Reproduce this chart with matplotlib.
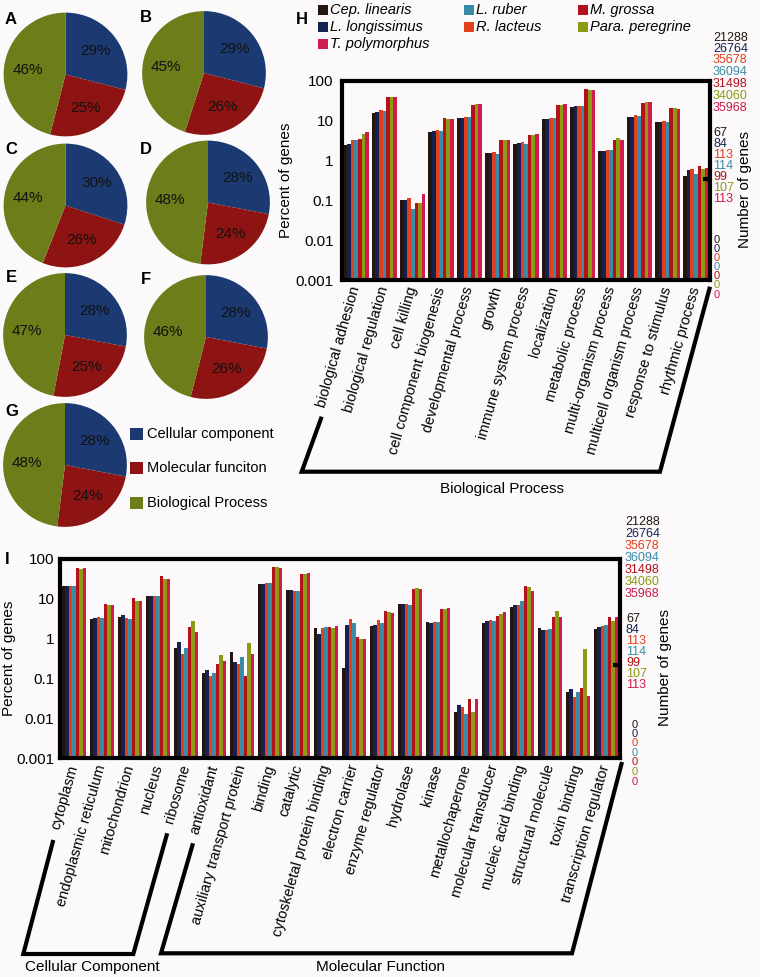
import matplotlib
matplotlib.use('Agg')
import matplotlib.pyplot as plt
import numpy as np
from matplotlib.patches import Rectangle

plt.rcParams['font.family'] = ['Liberation Sans', 'DejaVu Sans']

W, H = 760, 977
BG = '#fbf9f9'

# ---- pie data (A-G) ----
pie_names = ['A', 'B', 'C', 'D', 'E', 'F', 'G']
pie_cc = [29, 29, 30, 28, 28, 28, 28]
pie_mf = [25, 26, 26, 24, 25, 26, 24]
pie_bp = [46, 45, 44, 48, 47, 46, 48]
pie_labels = ['Cellular component', 'Molecular funciton', 'Biological Process']
pie_colors = ['#1b3a72', '#8e1414', '#6c7d1a']

# ---- species ----
species = ['Cep. linearis', 'L. longissimus', 'R. lacteus', 'L. ruber',
           'M. grossa', 'Para. peregrine', 'T. polymorphus']
sp_colors = ['#24150f', '#15214f', '#e2401c', '#3a8ba8', '#b3121a', '#8c9a14', '#cf1c4c']
total_genes = [21288, 26764, 35678, 36094, 31498, 34060, 35968]
mid_genes = [67, 84, 113, 114, 99, 107, 113]
min_genes = [0, 0, 0, 0, 0, 0, 0]

# ---- H: biological process (% of genes) ----
bp_terms = ['biological adhesion', 'biological regulation', 'cell killing',
            'cell component biogenesis', 'developmental process', 'growth',
            'immune system process', 'localization', 'metabolic process',
            'multi-organism process', 'multicell organism process',
            'response to stimulus', 'rhythmic process']
bp_cep = [2.5, 16, 0.1, 5.3, 11.5, 1.55, 2.6, 11, 22, 1.7, 12.5, 9.5, 0.42]
bp_llong = [2.6, 17, 0.1, 5.4, 11.5, 1.55, 2.7, 11, 23, 1.7, 12.5, 9.5, 0.58]
bp_rlac = [3.2, 19, 0.117, 5.9, 12.8, 1.6, 3.0, 12, 23, 1.85, 14, 10, 0.62]
bp_lrub = [3.3, 17.5, 0.06, 5.6, 12.5, 1.45, 2.6, 11.5, 23, 1.85, 13.5, 9.3, 0.45]
bp_mgro = [3.5, 40, 0.087, 11.5, 25, 3.2, 4.3, 25, 62, 3.3, 28, 21, 0.75]
bp_para = [4.7, 40, 0.087, 10.8, 26, 3.2, 4.5, 25, 60, 3.6, 29, 21.5, 0.62]
bp_tpol = [5.3, 40, 0.144, 10.8, 26, 3.2, 4.6, 26.5, 58, 3.2, 30, 19.5, 0.66]

# ---- I: cellular component + molecular function (% of genes) ----
cm_terms = ['cytoplasm', 'endoplasmic reticulum', 'mitochondrion', 'nucleus',
            'ribosome', 'antioxidant', 'auxiliary transport protein', 'binding',
            'catalytic', 'cytoskeletal protein binding', 'electron carrier',
            'enzyme regulator', 'hydrolase', 'kinase', 'metallochaperone',
            'molecular transducer', 'nucleic acid binding', 'structural molecule',
            'toxin binding', 'transcription regulator']
cm_cep = [21, 3.1, 3.4, 11.5, 0.58, 0.14, 0.47, 23, 17, 1.8, 0.18, 2.1, 7.4, 2.55,
          0.0145, 2.45, 6.3, 1.85, 0.045, 1.75]
cm_llong = [21, 3.3, 3.9, 12, 0.84, 0.165, 0.26, 24, 17, 1.3, 2.2, 2.2, 7.4, 2.5,
            0.022, 2.7, 7.0, 1.6, 0.055, 2.0]
cm_rlac = [21, 3.4, 3.2, 12, 0.4, 0.115, 0.23, 25, 15.5, 1.8, 3.1, 3.0, 7.2, 2.6,
           0.019, 3.0, 6.9, 1.6, 0.035, 2.05]
cm_lrub = [20.5, 3.2, 3.1, 12, 0.58, 0.138, 0.35, 25.5, 16, 2.0, 2.4, 2.4, 7.1, 2.65,
           0.0126, 2.8, 8.6, 1.7, 0.045, 2.2]
cm_mgro = [60, 7.3, 10.5, 37, 2.0, 0.235, 0.115, 63, 43, 1.95, 1.12, 4.8, 18, 5.7,
           0.031, 3.6, 21, 3.4, 0.058, 3.4]
cm_para = [57, 6.8, 9.0, 31, 2.8, 0.39, 0.76, 64, 43, 1.9, 1.0, 4.6, 18.5, 5.5,
           0.014, 4.2, 19.5, 5.0, 0.55, 2.8]
cm_tpol = [58, 7.0, 8.8, 31, 1.5, 0.27, 0.41, 61, 44, 2.05, 1.0, 4.4, 18, 5.8,
           0.03, 4.6, 15.8, 3.4, 0.036, 3.4]

bp_series = [bp_cep, bp_llong, bp_rlac, bp_lrub, bp_mgro, bp_para, bp_tpol]
cm_series = [cm_cep, cm_llong, cm_rlac, cm_lrub, cm_mgro, cm_para, cm_tpol]


def px_rect(x0, y0, x1, y1):
    # pixel box (top-left origin) -> figure fraction rect
    return [x0 / W, 1 - y1 / H, (x1 - x0) / W, (y1 - y0) / H]


fig = plt.figure(figsize=(W / 100, H / 100), dpi=100, facecolor=BG)

# ---- pies ----
pie_centers = [(65.5, 74.5), (204, 73), (65.5, 205.5), (208, 202.5),
               (65, 335), (206, 337), (65, 465)]
letter_pos = [(11, 20), (146, 18), (11, 150), (146, 150), (11, 278), (146, 280), (12, 412)]
r = 62.5
for i, name in enumerate(pie_names):
    cx, cy = pie_centers[i]
    ax = fig.add_axes(px_rect(cx - r, cy - r, cx + r, cy + r))
    ax.pie([pie_cc[i], pie_mf[i], pie_bp[i]], colors=pie_colors, startangle=90,
           counterclock=False, autopct=lambda p: f'{p:.0f}%', pctdistance=0.62,
           textprops=dict(fontsize=11, color='#111111'), wedgeprops=dict(linewidth=0))
    ax.set_xlim(-1.01, 1.01)
    ax.set_ylim(-1.01, 1.01)
    ax.set_aspect('auto')

# ---- bar chart helper ----
def draw_bars(ax, terms, series, width=0.127):
    x = np.arange(len(terms))
    for k, vals in enumerate(series):
        ax.bar(x + (k - 3) * width, vals, width, color=sp_colors[k], linewidth=0,
               label=species[k])
    ax.set_yscale('log')
    ax.set_ylim(0.001, 100)
    ax.set_xlim(-0.5, len(terms) - 0.5)
    ax.set_yticks([0.001, 0.01, 0.1, 1, 10, 100])
    ax.set_yticklabels(['0.001', '0.01', '0.1', '1', '10', '100'])
    ax.minorticks_off()
    ax.set_xticks(x)
    ax.set_xticklabels(terms, rotation=74, ha='right', va='center',
                       rotation_mode='anchor', fontsize=10.5)
    ax.tick_params(axis='both', length=0)
    ax.tick_params(axis='y', labelsize=11, pad=6)
    ax.tick_params(axis='x', pad=5)
    for s in ax.spines.values():
        s.set_linewidth(3)
        s.set_color('black')
    ax.set_facecolor('none')
    ax.set_ylabel('Percent of genes', fontsize=11, labelpad=2)


axH = fig.add_axes(px_rect(342, 81, 710, 280))
draw_bars(axH, bp_terms, bp_series)

axI = fig.add_axes(px_rect(60, 559, 620, 758))
draw_bars(axI, cm_terms, cm_series)
axI.tick_params(axis='y', pad=4)
axI.set_ylabel('Percent of genes', fontsize=11, labelpad=0)

# ---- overlay in pixel coordinates ----
ov = fig.add_axes([0, 0, 1, 1], zorder=10)
ov.set_xlim(0, W)
ov.set_ylim(H, 0)
ov.axis('off')
ov.patch.set_alpha(0)

for name, (lx, ly) in zip(pie_names, letter_pos):
    ov.text(lx, ly, name, fontsize=12, fontweight='bold', ha='center', va='center')
ov.text(302, 20, 'H', fontsize=12, fontweight='bold', ha='center', va='center')
ov.text(7, 560, 'I', fontsize=12, fontweight='bold', ha='center', va='center')

# pie legend
for j, lab in enumerate(pie_labels):
    yy = [434, 468, 503][j]
    ov.add_patch(Rectangle((130, yy - 6), 13, 12, color=pie_colors[j], lw=0))
    ov.text(147, yy, lab, fontsize=10.5, ha='left', va='center')

# species legend (3 columns)
leg_slots = [(318, 10), (318, 27), (464, 27), (464, 10), (578, 10), (578, 27), (318, 44)]
for k, sp in enumerate(species):
    lx, ly = leg_slots[k]
    ov.add_patch(Rectangle((lx, ly - 5), 10, 10, color=sp_colors[k], lw=0))
    ov.text(lx + 12, ly, sp, fontsize=10.5, style='italic', ha='left', va='center')

# gene count columns
def count_column(x, ys, vals, size=9):
    for k, (yy, v) in enumerate(zip(ys, vals)):
        ov.text(x, yy, str(v), color=sp_colors[k], fontsize=size, ha='left', va='center')

count_column(713, [38, 49, 60, 72, 84, 96, 108], total_genes)
count_column(713, [133, 144, 155, 166, 177, 188, 199], mid_genes)
count_column(714, [240, 249, 258, 267, 276, 285, 295], min_genes, size=8)
count_column(625, [522, 534, 546, 558, 570, 582, 594], total_genes)
count_column(626, [619, 630, 641, 652, 663, 674, 685], mid_genes)
count_column(632, [725, 734, 743, 753, 762, 772, 782], min_genes, size=8)

ov.text(745, 190, 'Number of genes', rotation=90, fontsize=11, ha='center', va='center')
ov.text(665, 667, 'Number of genes', rotation=90, fontsize=11, ha='center', va='center')

# small right-axis ticks
ov.plot([703, 710], [179, 179], color='black', lw=3, solid_capstyle='butt')
ov.plot([613, 620], [665, 665], color='black', lw=3, solid_capstyle='butt')

# brackets
lk = dict(color='black', lw=3, solid_joinstyle='miter', solid_capstyle='butt')
ov.plot([321.7, 301.7, 660, 710], [416.7, 471.7, 471.7, 286.7], **lk)
ov.text(501.7, 489, 'Biological Process', fontsize=11, ha='center', va='center')

ov.plot([53.3, 23.3, 133.3, 167.2], [840, 954, 954, 833.3], **lk)
ov.plot([193, 161, 572, 622], [843.3, 953.3, 953.3, 762], **lk)
ov.text(92, 967, 'Cellular Component', fontsize=11, ha='center', va='center',
        family=['Liberation Sans Narrow', 'Liberation Sans', 'DejaVu Sans'])
ov.text(380.5, 967, 'Molecular Function', fontsize=11, ha='center', va='center',
        family=['Liberation Sans Narrow', 'Liberation Sans', 'DejaVu Sans'])

fig.savefig('out.png', dpi=100, facecolor=BG)
